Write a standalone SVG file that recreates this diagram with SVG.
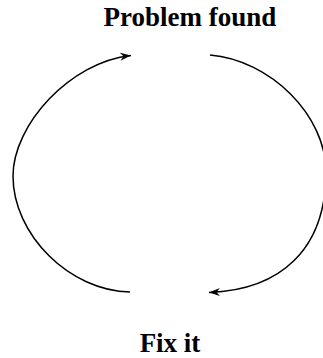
<svg xmlns="http://www.w3.org/2000/svg" width="323" height="358" viewBox="0 0 323 358">
<style>
.lbl{font-family:"Liberation Serif","Times New Roman",serif;font-weight:bold;font-size:27px;fill:#000;text-anchor:middle}
.arc{fill:none;stroke:#000;stroke-width:1.5}
</style>
<defs>
<marker id="ah" markerUnits="userSpaceOnUse" markerWidth="14" markerHeight="10" viewBox="-10 -5 12 10" refX="0" refY="0" orient="auto">
<path d="M0,0 L-11,-4 L-7.5,0 L-11,4 Z" fill="#000"/>
</marker>
</defs>
<rect width="323" height="358" fill="#fff"/>
<g id="connectors">
<path class="arc" d="M130,292 C70,291 13,235 13,176 C13,125 70,62 131,55.5" marker-end="url(#ah)"/>
<path class="arc" d="M210,55 C270,60 326,115 326,172 C326,250 280,290 209,292.5" marker-end="url(#ah)"/>
</g>
<g id="node-problem"><text class="lbl" x="190" y="26">Problem found</text></g>
<g id="node-fix"><text class="lbl" x="170" y="352">Fix it</text></g>
</svg>
